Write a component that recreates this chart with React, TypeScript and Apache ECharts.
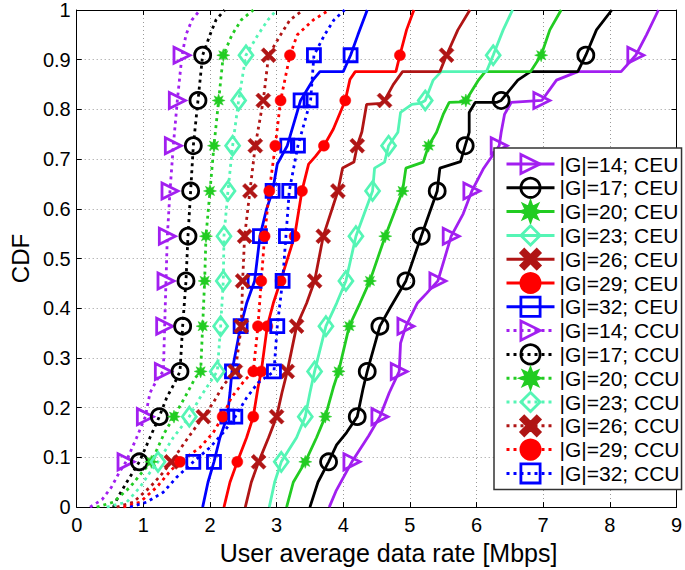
import React, { useEffect, useRef } from "react";
import * as echarts from "echarts";

// Marker levels (CDF values where markers are drawn)
const MARK_Y = [0.091, 0.182, 0.273, 0.364, 0.455, 0.545, 0.636, 0.727, 0.818, 0.909];

// X axis ticks / Y axis ticks
const X_MIN = 0, X_MAX = 9, X_STEP = 1;
const Y_MIN = 0, Y_MAX = 1, Y_STEP = 0.1;

// ---- CEU curves (solid) : [rate, CDF]
const CEU_14 = [[3.79,0],[3.89,0.032],[4.13,0.091],[4.38,0.143],[4.55,0.182],[4.69,0.23],[4.84,0.273],[4.86,0.33],[4.94,0.364],[5.11,0.41],[5.25,0.43],[5.42,0.455],[5.52,0.5],[5.62,0.545],[5.80,0.59],[5.93,0.636],[6.10,0.68],[6.34,0.727],[6.37,0.754],[6.42,0.79],[6.52,0.814],[6.98,0.818],[7.20,0.859],[7.52,0.876],[8.17,0.876],[8.39,0.909],[8.55,0.95],[8.73,1]];
const CEU_17 = [[3.50,0],[3.62,0.05],[3.78,0.091],[3.90,0.125],[4.05,0.15],[4.21,0.182],[4.30,0.24],[4.36,0.273],[4.55,0.364],[4.70,0.40],[4.94,0.455],[5.17,0.545],[5.41,0.636],[5.45,0.682],[5.76,0.695],[5.83,0.727],[5.89,0.754],[5.89,0.794],[5.98,0.814],[6.30,0.814],[6.37,0.818],[6.62,0.859],[6.81,0.876],[7.52,0.876],[7.64,0.909],[7.80,0.96],[8.03,1]];
const CEU_20 = [[3.15,0],[3.25,0.05],[3.43,0.091],[3.60,0.14],[3.73,0.182],[3.85,0.24],[3.93,0.273],[4.09,0.364],[4.25,0.41],[4.40,0.455],[4.63,0.545],[4.89,0.636],[4.94,0.682],[5.20,0.694],[5.28,0.727],[5.40,0.754],[5.50,0.79],[5.59,0.814],[5.80,0.815],[5.84,0.818],[6.03,0.859],[6.13,0.876],[6.81,0.876],[6.97,0.909],[7.10,0.96],[7.27,1]];
const CEU_23 = [[2.89,0],[2.97,0.05],[3.07,0.091],[3.30,0.14],[3.43,0.182],[3.50,0.23],[3.57,0.273],[3.74,0.364],[3.90,0.41],[4.04,0.455],[4.19,0.545],[4.44,0.636],[4.47,0.682],[4.62,0.694],[4.68,0.727],[4.82,0.754],[4.86,0.794],[5.03,0.81],[5.15,0.812],[5.23,0.818],[5.35,0.859],[5.47,0.876],[6.15,0.876],[6.25,0.909],[6.40,0.96],[6.54,1]];
const CEU_26 = [[2.53,0],[2.62,0.05],[2.73,0.091],[2.88,0.14],[3.00,0.182],[3.08,0.23],[3.16,0.273],[3.30,0.364],[3.45,0.41],[3.57,0.455],[3.70,0.545],[3.92,0.636],[3.99,0.682],[4.16,0.694],[4.21,0.727],[4.28,0.755],[4.35,0.81],[4.57,0.812],[4.62,0.818],[4.75,0.85],[4.89,0.876],[5.45,0.876],[5.55,0.909],[5.72,0.96],[5.90,1]];
const CEU_29 = [[2.21,0],[2.30,0.05],[2.41,0.091],[2.55,0.14],[2.65,0.182],[2.72,0.24],[2.77,0.273],[2.86,0.364],[2.95,0.41],[3.06,0.455],[3.27,0.545],[3.38,0.636],[3.48,0.69],[3.58,0.705],[3.71,0.727],[3.85,0.76],[4.03,0.818],[4.10,0.86],[4.18,0.876],[4.79,0.876],[4.85,0.909],[4.95,0.96],[5.06,1]];
const CEU_32 = [[1.89,0],[1.97,0.05],[2.06,0.091],[2.15,0.14],[2.26,0.182],[2.30,0.23],[2.33,0.273],[2.46,0.364],[2.55,0.41],[2.67,0.455],[2.75,0.545],[2.85,0.6],[2.94,0.636],[3.01,0.69],[3.16,0.727],[3.36,0.818],[3.55,0.86],[3.65,0.876],[4.00,0.876],[4.11,0.909],[4.22,0.95],[4.36,1]];

// ---- CCU curves (dotted)
const CCU_14 = [[0.20,0],[0.38,0.015],[0.52,0.04],[0.64,0.07],[0.74,0.091],[0.90,0.14],[1.03,0.182],[1.10,0.23],[1.22,0.26],[1.30,0.273],[1.32,0.364],[1.34,0.455],[1.36,0.545],[1.40,0.636],[1.45,0.727],[1.51,0.818],[1.58,0.909],[1.64,0.95],[1.73,0.98],[1.85,1]];
const CCU_17 = [[0.55,0],[0.62,0.02],[0.75,0.05],[0.94,0.091],[1.10,0.14],[1.24,0.182],[1.35,0.22],[1.47,0.25],[1.55,0.273],[1.59,0.364],[1.64,0.455],[1.67,0.545],[1.71,0.636],[1.75,0.727],[1.82,0.818],[1.89,0.909],[2.00,0.95],[2.09,0.98],[2.22,1]];
const CCU_20 = [[0.30,0],[0.55,0.01],[0.80,0.04],[0.98,0.07],[1.12,0.091],[1.32,0.15],[1.46,0.182],[1.62,0.22],[1.78,0.26],[1.86,0.273],[1.89,0.364],[1.92,0.455],[1.94,0.545],[2.00,0.636],[2.06,0.727],[2.13,0.818],[2.20,0.909],[2.33,0.95],[2.47,0.98],[2.65,1]];
const CCU_23 = [[0.45,0],[0.75,0.01],[0.95,0.04],[1.10,0.07],[1.22,0.091],[1.45,0.14],[1.69,0.182],[1.85,0.22],[2.02,0.255],[2.11,0.273],[2.16,0.364],[2.20,0.455],[2.21,0.545],[2.27,0.636],[2.34,0.727],[2.43,0.818],[2.54,0.909],[2.72,0.95],[2.87,0.98],[3.00,1]];
const CCU_26 = [[0.60,0],[0.85,0.01],[1.10,0.04],[1.30,0.07],[1.42,0.091],[1.62,0.13],[1.90,0.182],[2.05,0.21],[2.20,0.245],[2.38,0.273],[2.47,0.364],[2.49,0.455],[2.52,0.545],[2.60,0.636],[2.68,0.727],[2.80,0.818],[2.88,0.909],[3.06,0.95],[3.20,0.98],[3.40,1]];
const CCU_29 = [[0.70,0],[0.95,0.01],[1.20,0.04],[1.42,0.075],[1.55,0.091],[1.85,0.12],[2.05,0.15],[2.19,0.182],[2.32,0.22],[2.52,0.255],[2.65,0.273],[2.72,0.364],[2.77,0.455],[2.82,0.545],[2.89,0.636],[2.98,0.727],[3.06,0.818],[3.20,0.909],[3.31,0.95],[3.55,0.98],[3.79,1]];
const CCU_32 = [[0.80,0],[1.05,0.01],[1.30,0.03],[1.50,0.06],[1.75,0.091],[2.00,0.12],[2.20,0.15],[2.38,0.182],[2.55,0.22],[2.72,0.25],[2.96,0.273],[3.01,0.364],[3.09,0.455],[3.14,0.545],[3.19,0.636],[3.32,0.727],[3.51,0.818],[3.56,0.909],[3.72,0.95],[3.86,0.98],[4.02,1]];

const NAMES = [
  "|G|=14; CEU", "|G|=17; CEU", "|G|=20; CEU", "|G|=23; CEU", "|G|=26; CEU", "|G|=29; CEU", "|G|=32; CEU",
  "|G|=14; CCU", "|G|=17; CCU", "|G|=20; CCU", "|G|=23; CCU", "|G|=26; CCU", "|G|=29; CCU", "|G|=32; CCU",
];

const X_NAME = "User average data rate [Mbps]";
const Y_NAME = "CDF";

const FONT = "'Liberation Sans', Arial, Helvetica, sans-serif";

function starPath(n: number, ro: number, ri: number) {
  let d = "";
  for (let i = 0; i < 2 * n; i++) {
    const r = i % 2 ? ri : ro;
    const a = (Math.PI * i) / n - Math.PI / 2;
    d += (i ? "L" : "M") + (10 + r * Math.cos(a)).toFixed(2) + "," + (10 + r * Math.sin(a)).toFixed(2);
  }
  return "path://" + d + "Z";
}

const X_PATH = "path://M3.5,0 L10,6.5 L16.5,0 L20,3.5 L13.5,10 L20,16.5 L16.5,20 L10,13.5 L3.5,20 L0,16.5 L6.5,10 L0,3.5 Z";

const MARKERS: any[] = [
  { symbol: "triangle", rotate: -90, size: 16, open: true, color: "#a21ff0" },
  { symbol: "circle", rotate: 0, size: 16, open: true, color: "#000000" },
  { symbol: starPath(8, 10, 5), rotate: 0, size: 13, open: false, color: "#22cc22" },
  { symbol: "diamond", rotate: 0, size: [14, 19], open: true, color: "#55f5b5" },
  { symbol: X_PATH, rotate: 0, size: 15, open: false, color: "#b01515" },
  { symbol: "circle", rotate: 0, size: 11, open: false, color: "#ff0000" },
  { symbol: "rect", rotate: 0, size: 13, open: true, color: "#0000ff" },
];

const CURVES = [CEU_14, CEU_17, CEU_20, CEU_23, CEU_26, CEU_29, CEU_32, CCU_14, CCU_17, CCU_20, CCU_23, CCU_26, CCU_29, CCU_32];

function buildSeries() {
  return CURVES.map((pts, i) => {
    const m = MARKERS[i % 7];
    const dotted = i >= 7;
    return {
      type: "line",
      name: NAMES[i],
      data: pts.map(([x, y]) => (MARK_Y.includes(y) ? [x, y] : { value: [x, y], symbol: "none" })),
      symbol: m.symbol,
      symbolSize: m.size,
      symbolRotate: m.rotate,
      showAllSymbol: true,
      lineStyle: { color: m.color, width: 2.8, type: dotted ? [3, 4] : "solid", cap: "butt" },
      itemStyle: m.open
        ? { color: "rgba(255,255,255,0)", borderColor: m.color, borderWidth: 2.8 }
        : { color: m.color, borderColor: m.color, borderWidth: 0.5 },
      emphasis: { disabled: true },
      z: 3,
    };
  });
}

export default function App() {
  const ref = useRef<HTMLDivElement>(null);
  useEffect(() => {
    if (!ref.current) return;
    const chart = echarts.init(ref.current, null, { renderer: "svg" });
    const axisCommon = {
      type: "value",
      axisLine: { show: true, onZero: false, lineStyle: { color: "#000", width: 1 } },
      axisTick: { show: true, inside: true, length: 5, lineStyle: { color: "#000" } },
    };
    chart.setOption({
      animation: false,
      backgroundColor: "#ffffff",
      textStyle: { fontFamily: FONT },
      grid: { left: 63, right: 5, top: 8, bottom: 53, containLabel: false },
      xAxis: [
        {
          ...axisCommon,
          position: "bottom",
          min: X_MIN, max: X_MAX, interval: X_STEP,
          name: X_NAME,
          nameLocation: "middle",
          nameGap: 31,
          nameTextStyle: { fontSize: 25, color: "#000", fontFamily: FONT, padding: [0, 0, 0, 24] },
          axisLabel: { fontSize: 20, color: "#000", margin: 8, fontFamily: FONT },
          splitLine: { show: true, lineStyle: { color: "#999", type: [1, 3], width: 1 } },
        },
        {
          ...axisCommon,
          position: "top",
          min: X_MIN, max: X_MAX, interval: X_STEP,
          axisLabel: { show: false },
          splitLine: { show: false },
        },
      ],
      yAxis: [
        {
          ...axisCommon,
          position: "left",
          min: Y_MIN, max: Y_MAX, interval: Y_STEP,
          name: Y_NAME,
          nameLocation: "middle",
          nameGap: 43,
          nameTextStyle: { fontSize: 24, color: "#000", fontFamily: FONT },
          axisLabel: { fontSize: 20, color: "#000", margin: 6, fontFamily: FONT },
          splitLine: { show: true, lineStyle: { color: "#999", type: [1, 3], width: 1 } },
        },
        {
          ...axisCommon,
          position: "right",
          min: Y_MIN, max: Y_MAX, interval: Y_STEP,
          axisLabel: { show: false },
          splitLine: { show: false },
        },
      ],
      legend: {
        data: NAMES,
        orient: "vertical",
        left: 494,
        top: 148,
        itemWidth: 48,
        itemHeight: 24,
        itemGap: 1.8,
        padding: [5, 2, 5, 11],
        backgroundColor: "#ffffff",
        borderColor: "#333",
        borderWidth: 1.5,
        borderRadius: 0,
        selectedMode: false,
        lineStyle: { width: 3 },
        itemStyle: { borderWidth: 2.8 },
        textStyle: { fontSize: 21, color: "#000", fontFamily: FONT, padding: [0, 0, 0, 0] },
      },
      series: buildSeries(),
    });
    return () => chart.dispose();
  }, []);
  return <div ref={ref} style={{ position: "fixed", left: 0, top: 0, width: 685, height: 570 }} />;
}
